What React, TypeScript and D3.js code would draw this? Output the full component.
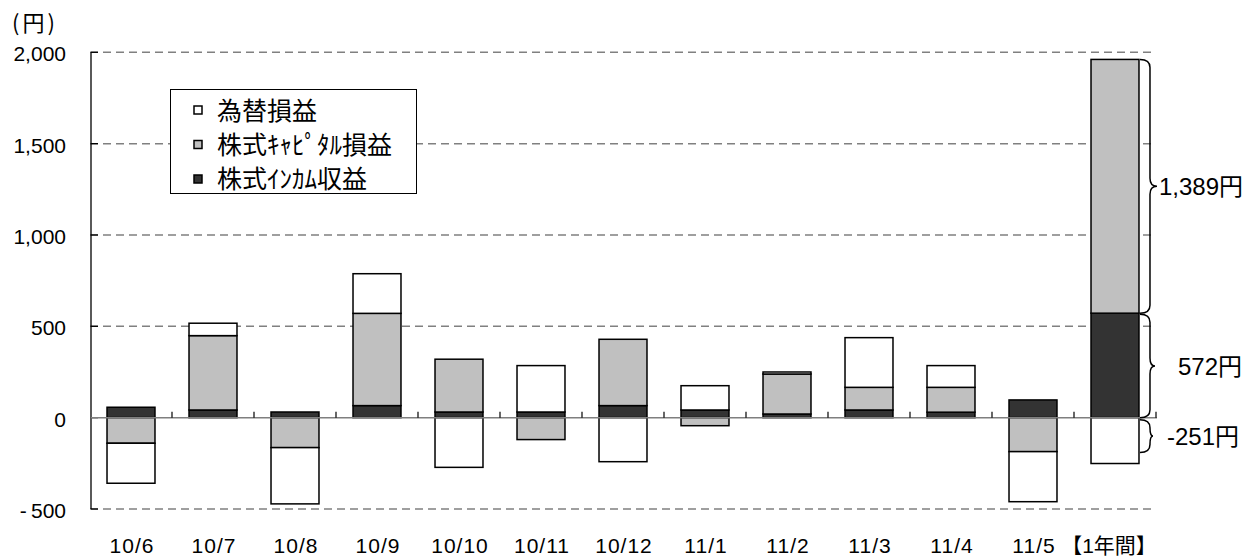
import React from 'react';
import * as d3 from 'd3';

const categories = ['10/6', '10/7', '10/8', '10/9', '10/10', '10/11', '10/12', '11/1', '11/2', '11/3', '11/4', '11/5', '【1年間】'];
const incomeValues = [57, 42, 31, 66, 31, 31, 66, 42, 20, 42, 30, 97, 572];
const capitalValues = [-140, 407, -164, 505, 289, -120, 363, -44, 219, 124, 136, -186, 1389];
const fxValues = [-219, 68, -308, 217, -272, 254, -241, 133, 11, 272, 119, -274, -251];
const yTicks = [-500, 0, 500, 1000, 1500, 2000];
const seriesKeys = ['income', 'capital', 'fx'];
const seriesLabels: Record<string, string> = { fx: '為替損益', capital: '株式ｷｬﾋﾟﾀﾙ損益', income: '株式ｲﾝｶﾑ収益' };
const legendOrder = ['fx', 'capital', 'income'];
const braceLabels = ['1,389円', '572円', '-251円'];

const colors: Record<string, string> = { income: '#333333', capital: '#C0C0C0', fx: '#FFFFFF' };
const W = 1254, H = 558;
const LAT = '"Liberation Sans", Arial, "Noto Sans CJK JP", sans-serif';
const CJK = '"Noto Sans CJK JP", "Liberation Sans", sans-serif';

function fmt(v: number) {
  if (v < 0) return '-\u2009' + d3.format(',')(-v);
  return d3.format(',')(v);
}

function bracePath(x0: number, x1: number, x2: number, y1: number, y2: number) {
  const ym = (y1 + y2) / 2;
  const r = Math.min(8, (y2 - y1) / 4);
  return `M${x0},${y1} Q${x1},${y1} ${x1},${y1 + r} L${x1},${ym - r} Q${x1},${ym} ${x2},${ym} Q${x1},${ym} ${x1},${ym + r} L${x1},${y2 - r} Q${x1},${y2} ${x0},${y2}`;
}

export default function App() {
  const left = 90, right = 1156;
  const x = d3.scaleBand<string>().domain(categories).range([left, right]).paddingInner(0.415).paddingOuter(0.2075);
  const y = d3.scaleLinear().domain([-500, 2000]).range([509, 52.3]);
  const rows = categories.map((c, i) => ({ cat: c, income: incomeValues[i], capital: capitalValues[i], fx: fxValues[i] }));
  const stacked = d3.stack<any>().keys(seriesKeys).offset(d3.stackOffsetDiverging)(rows);
  const step = x.step();
  const last = categories.length - 1;
  const segOf = (k: string) => stacked.find(s => s.key === k)![last];
  const capSeg = segOf('capital'), incSeg = segOf('income'), fxSeg = segOf('fx');
  const braceX0 = x(categories[last])! + x.bandwidth() + 1;
  const braces = [
    { y1: y(capSeg[1]), y2: y(capSeg[0]), label: braceLabels[0], lx: braceX0 + 19, tip: 17 },
    { y1: y(incSeg[1]) + 1, y2: y(incSeg[0]), label: braceLabels[1], lx: braceX0 + 38, tip: 15 },
    { y1: y(fxSeg[1]) + 2, y2: y(fxSeg[0]) - 11, label: braceLabels[2], lx: braceX0 + 27, tip: 13 },
  ];

  return (
    <svg width={W} height={H} style={{ position: 'absolute', left: 0, top: 0, background: '#fff' }}>
      {/* gridlines */}
      {yTicks.filter(t => t !== 0).map(t => (
        <line key={'g' + t} x1={left} x2={right} y1={y(t)} y2={y(t)} stroke="#808080" strokeWidth={1.5} strokeDasharray="8,5" />
      ))}
      {/* y axis */}
      <line x1={left + 1} x2={left + 1} y1={y(2000)} y2={y(-500)} stroke="#000" strokeWidth={1.3} />
      {yTicks.map(t => (
        <g key={'t' + t}>
          <line x1={left + 1} x2={left + 8} y1={y(t)} y2={y(t)} stroke="#000" strokeWidth={1.3} />
          <text x={66} y={y(t) + 9} textAnchor="end" fontFamily={LAT} fontSize={21} fill="#000">{fmt(t)}</text>
        </g>
      ))}
      <text x={12} y={31} fontFamily={CJK} fontSize={22} letterSpacing={3} fill="#000">(円)</text>
      {/* bars */}
      {stacked.map(s => (
        <g key={s.key}>
          {s.map((d: any, i: number) => {
            const y0 = y(d[0]), y1 = y(d[1]);
            const top = Math.min(y0, y1), h = Math.abs(y0 - y1);
            if (h < 0.01) return null;
            return <rect key={i} x={x(categories[i])} y={top} width={x.bandwidth()} height={h} fill={colors[s.key]} stroke="#000" strokeWidth={1.5} />;
          })}
        </g>
      ))}
      {/* zero line */}
      <line x1={left + 1} x2={right + 1} y1={y(0)} y2={y(0)} stroke="#7f7f7f" strokeWidth={1.5} />
      {categories.map((c, i) => (
        <line key={'xt' + i} x1={left + (i + 1) * step} x2={left + (i + 1) * step} y1={y(0)} y2={y(0) - 6} stroke="#000" strokeWidth={1.2} />
      ))}
      {/* x labels */}
      {categories.map(c => (
        <text key={'xl' + c} x={x(c)! + x.bandwidth() / 2 + (c.startsWith('【') ? -6 : 1)} y={553} textAnchor="middle" fontFamily={LAT} fontSize={21} letterSpacing={c.startsWith('【') ? 0 : 1} fill="#000">{c}</text>
      ))}
      {/* braces */}
      {braces.map((b, i) => (
        <g key={'b' + i}>
          <path d={bracePath(braceX0, braceX0 + 10, braceX0 + b.tip, b.y1, b.y2)} fill="none" stroke="#000" strokeWidth={1.5} />
          <text x={b.lx} y={(b.y1 + b.y2) / 2 + 9} fontFamily={LAT} fontSize={24} fill="#000">{b.label}</text>
        </g>
      ))}
      {/* legend */}
      <rect x={170.5} y={89.5} width={246} height={104} fill="#fff" stroke="#000" strokeWidth={1} />
      {legendOrder.map((k, i) => (
        <g key={'l' + k}>
          <rect x={194} y={106 + i * 34.5} width={8} height={8} fill={colors[k]} stroke="#000" strokeWidth={1.5} />
          <text x={217} y={120 + i * 34} fontFamily={CJK} fontSize={25} fill="#000">{seriesLabels[k]}</text>
        </g>
      ))}
    </svg>
  );
}
